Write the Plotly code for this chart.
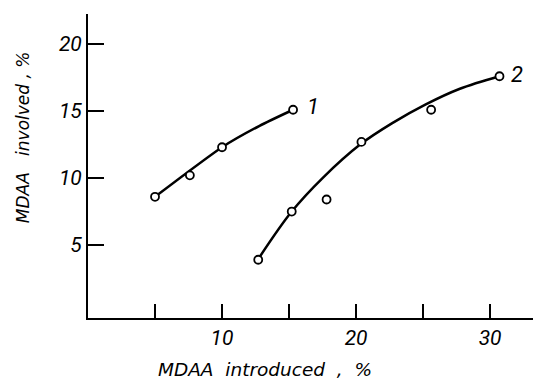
import plotly.graph_objects as go

# Curve 1 data points
c1_x = [5.0, 7.6, 10.0, 15.3]
c1_y = [8.6, 10.2, 12.3, 15.1]

# Curve 2 data points
c2_x = [12.7, 15.2, 17.8, 20.4, 25.6, 30.7]
c2_y = [3.9, 7.5, 8.4, 12.7, 15.1, 17.6]

# Drawn smooth lines (guide points)
c1_line_x = [5.0, 10.0, 12.8, 15.3]
c1_line_y = [8.6, 12.3, 13.9, 15.1]
c2_line_x = [12.7, 15.2, 17.5, 20.3, 22.7, 25.2, 27.7, 30.7]
c2_line_y = [3.95, 7.5, 10.0, 12.5, 14.1, 15.5, 16.65, 17.6]

x_tickvals = [5, 10, 15, 20, 25, 30]
x_ticktext = ["", "10", "", "20", "", "30"]
y_tickvals = [5, 10, 15, 20]
y_ticktext = ["5", "10", "15", "20"]

FONT = "Roboto, sans-serif"

fig = go.Figure()
fig.add_trace(go.Scatter(x=c1_line_x, y=c1_line_y, mode="lines",
                         line=dict(color="black", width=2.5, shape="spline", smoothing=0.6), hoverinfo="skip"))
fig.add_trace(go.Scatter(x=c2_line_x, y=c2_line_y, mode="lines",
                         line=dict(color="black", width=2.5, shape="spline", smoothing=1.0), hoverinfo="skip"))
for xs, ys in [(c1_x, c1_y), (c2_x, c2_y)]:
    fig.add_trace(go.Scatter(x=xs, y=ys, mode="markers",
                             marker=dict(symbol="circle", size=8, color="white",
                                         line=dict(color="black", width=1.8))))

fig.add_annotation(x=c1_x[-1], y=c1_y[-1], text="1", showarrow=False, xshift=20, yshift=3,
                   font=dict(family=FONT, size=22, color="black", style="italic"))
fig.add_annotation(x=c2_x[-1], y=c2_y[-1], text="2", showarrow=False, xshift=18, yshift=2,
                   font=dict(family=FONT, size=22, color="black", style="italic"))

fig.add_annotation(xref="paper", yref="paper", x=-0.146, y=0.595, text="MDAA   involved , %",
                   textangle=-90, showarrow=False, xanchor="center", yanchor="middle",
                   font=dict(family="DejaVu Sans", size=17, color="black", style="italic"))
fig.add_annotation(xref="paper", yref="paper", x=0.398, y=-0.17, text="MDAA  introduced  ,  %",
                   showarrow=False, xanchor="center", yanchor="middle",
                   font=dict(family="DejaVu Sans", size=18.5, color="black", style="italic"))

fig.update_layout(
    width=533, height=382,
    margin=dict(l=88, r=0, t=14, b=64),
    plot_bgcolor="white", paper_bgcolor="white",
    showlegend=False,
    font=dict(family=FONT, size=20, color="black"),
)
fig.update_xaxes(range=[0, 33.2], showline=True, linecolor="black", linewidth=2,
                 showgrid=False, zeroline=False, ticks="inside", ticklen=14, tickwidth=1.8,
                 tickcolor="black", tickvals=x_tickvals, ticktext=x_ticktext,
                 tickfont=dict(family=FONT, size=21, style="italic"))
fig.update_yaxes(range=[-0.45, 22.25], showline=True, linecolor="black", linewidth=2,
                 showgrid=False, zeroline=False, ticks="inside", ticklen=16, tickwidth=1.8,
                 tickcolor="black", tickvals=y_tickvals, ticktext=y_ticktext,
                 tickfont=dict(family=FONT, size=21, style="italic"))

fig.write_html("out.html")
